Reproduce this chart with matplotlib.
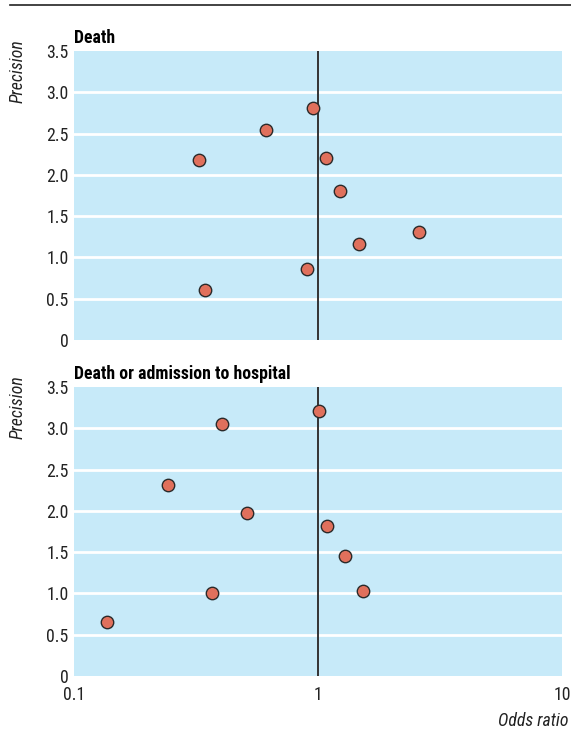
import matplotlib
matplotlib.use('Agg')
import matplotlib.pyplot as plt

# Funnel plot data (odds ratio vs precision).
death_or = [0.95, 0.61, 0.325, 1.08, 1.23, 2.59, 1.47, 0.90, 0.344]
death_prec = [2.81, 2.54, 2.18, 2.21, 1.81, 1.31, 1.16, 0.86, 0.605]

adm_or = [1.01, 0.404, 0.243, 0.512, 1.09, 1.29, 1.53, 0.368, 0.136]
adm_prec = [3.21, 3.05, 2.31, 1.97, 1.82, 1.45, 1.03, 1.00, 0.65]

panel_titles = ['Death', 'Death or admission to hospital']
y_ticks = [0, 0.5, 1.0, 1.5, 2.0, 2.5, 3.0, 3.5]
y_ticklabels = ['0', '0.5', '1.0', '1.5', '2.0', '2.5', '3.0', '3.5']
x_ticks = [0.1, 1, 10]
x_ticklabels = ['0.1', '1', '10']

plt.rcParams['font.family'] = ['Roboto Condensed', 'DejaVu Sans']

BG = '#c7eaf9'
FACE = '#e0705c'
FS = 12.8

fig = plt.figure(figsize=(5.71, 7.31), dpi=100)
fig.add_artist(plt.Line2D([10 / 571, 1.0], [1 - 5 / 731] * 2,
                          color='#222222', lw=1.2))

left = 74 / 571
width = (562 - 74) / 571
height = 289 / 731
bottoms = [1 - 340 / 731, 1 - 676 / 731]
series = [(death_or, death_prec), (adm_or, adm_prec)]

for i, (bot, (xs, ys), title) in enumerate(zip(bottoms, series,
                                               panel_titles)):
    ax = fig.add_axes([left, bot, width, height])
    ax.set_facecolor(BG)
    ax.set_xscale('log')
    ax.set_xlim(0.1, 10)
    ax.set_ylim(0, 3.5)
    for s in ax.spines.values():
        s.set_visible(False)
    for yv in y_ticks[1:-1]:
        ax.axhline(yv, color='white', lw=2.0, zorder=1)
    ax.axvline(1, color='#333333', lw=1.4, zorder=2)
    ax.scatter(xs, ys, s=80, color=FACE, edgecolor='#2a2a2a',
               linewidth=1.0, zorder=3)
    ax.set_yticks(y_ticks)
    ax.set_yticklabels(y_ticklabels, fontsize=FS, color='#222222')
    ax.tick_params(axis='both', length=0, pad=4)
    ax.minorticks_off()
    if i == 1:
        ax.set_xticks(x_ticks)
        ax.set_xticklabels(x_ticklabels, fontsize=FS, color='#222222')
        ax.tick_params(axis='x', pad=7)
    else:
        ax.set_xticks([])
    ax.text(0.0, 1.014, title, transform=ax.transAxes, ha='left',
            va='bottom', fontsize=FS, fontweight='bold')
    ax.text(-0.115, 1.04, 'Precision', transform=ax.transAxes,
            rotation=90, ha='center', va='top', fontsize=FS,
            style='italic', color='#222222')

fig.text(568 / 571, 1 - 726 / 731, 'Odds ratio', ha='right',
         va='baseline', fontsize=FS, style='italic', color='#222222')

fig.savefig('out.png', dpi=100, facecolor='white')
